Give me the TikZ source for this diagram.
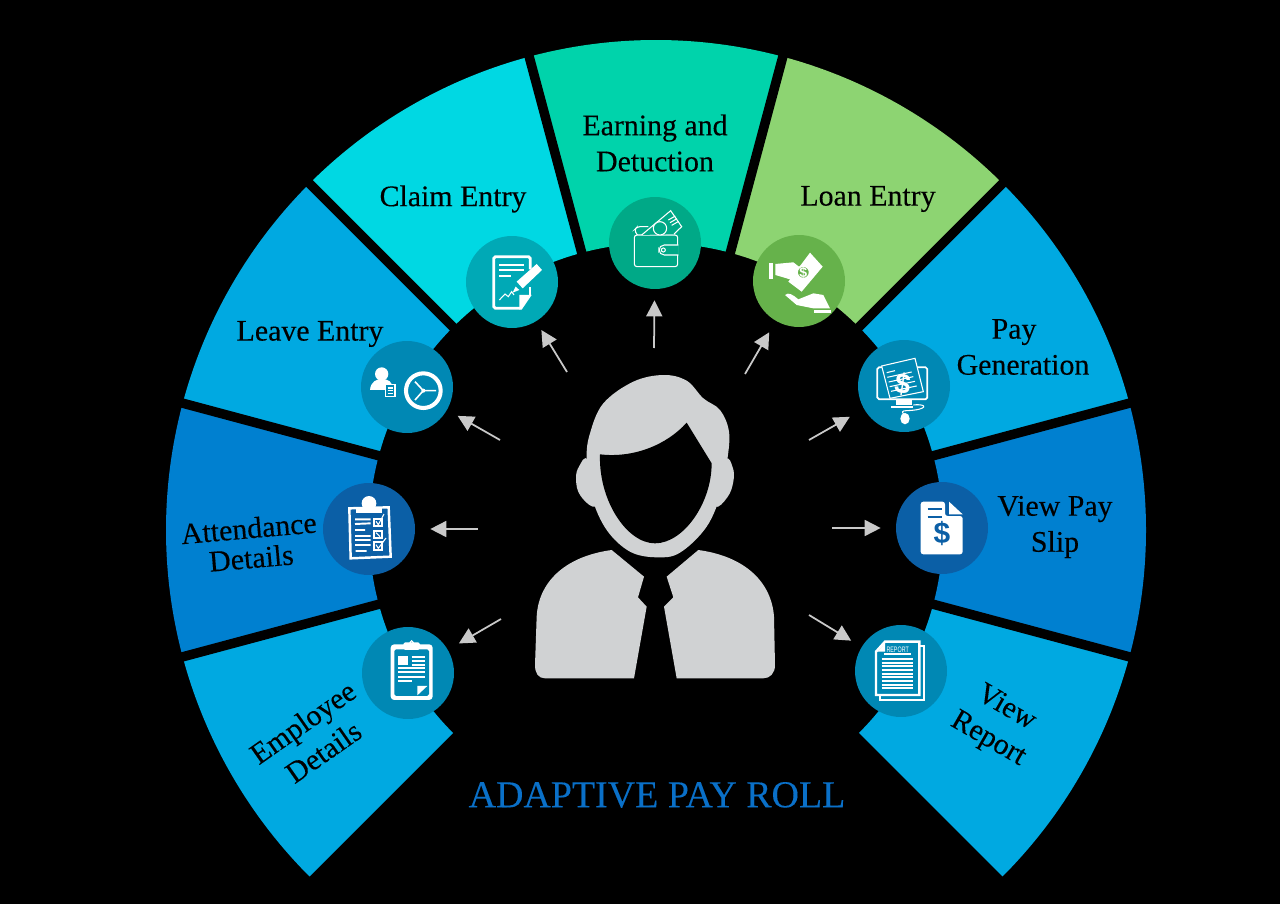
\documentclass[tikz,border=0pt]{standalone}
\usepackage{fontspec}
\setmainfont{Liberation Serif}
\setsansfont{Liberation Sans}
\newfontfamily\wedgefont[FakeBold=0.2]{Liberation Serif}
\usepackage{tikz}
\usetikzlibrary{shapes.geometric, arrows.meta}
\definecolor{wedgeteal}{HTML}{00D3AB}
\definecolor{wedgecyan}{HTML}{00D8E3}
\definecolor{wedgesky}{HTML}{00A9E1}
\definecolor{wedgeblue}{HTML}{0080D0}
\definecolor{wedgelime}{HTML}{8DD472}
\definecolor{discteal}{HTML}{00A987}
\definecolor{disccyan}{HTML}{00A9B6}
\definecolor{discsky}{HTML}{0088B4}
\definecolor{discblue}{HTML}{0B5FA6}
\definecolor{disclime}{HTML}{66B24B}
\definecolor{titleblue}{HTML}{0A70C8}
\definecolor{persongrey}{HTML}{D0D2D3}
\definecolor{arrowgrey}{HTML}{C9C9C9}
\tikzstyle{iconbox} =
[circle, minimum size = 1.84cm, inner sep = 0pt, draw=none]
\tikzstyle{itemtext} =
[align = center, inner sep = 0pt, text=black,
font = \wedgefont\fontsize{17}{20.5}\selectfont]
\tikzstyle{titletext} =
[inner sep = 0pt, text=titleblue, font = \wedgefont\fontsize{21.6}{26}\selectfont]
\tikzstyle{gapline} = [draw=black, line width = 0.19cm]
\tikzstyle{line} =
[draw=arrowgrey, line width = 0.035cm,
-{Triangle[length=0.32cm,width=0.32cm,fill=arrowgrey]}]
\tikzstyle{iconscale} = [x=0.006667cm, y=-0.006667cm]
\tikzstyle{iconline} = [draw=white, line width = 0.6pt]
\tikzstyle{iconbold} = [draw=white, line width = 1.4pt]

\begin{document}
\begin{tikzpicture}[x=0.02cm, y=0.02cm]
  \fill [black] (0,0) rectangle (1280,904);
  \coordinate (hub) at (656,374);
  %
  % wedges
  \begin{scope}[shift={(hub)}]
    \fill [wedgeteal] (75:287) arc (75:105:287) -- (105:490) arc (105:75:490) -- cycle;
    \fill [wedgecyan] (105:287) arc (105:135:287) -- (135:490) arc (135:105:490) -- cycle;
    \fill [wedgesky] (135:287) arc (135:165:287) -- (165:490) arc (165:135:490) -- cycle;
    \fill [wedgeblue] (165:287) arc (165:195:287) -- (195:490) arc (195:165:490) -- cycle;
    \fill [wedgesky] (195:287) arc (195:225:287) -- (225:490) arc (225:195:490) -- cycle;
    \fill [wedgelime] (45:287) arc (45:75:287) -- (75:490) arc (75:45:490) -- cycle;
    \fill [wedgesky] (15:287) arc (15:45:287) -- (45:490) arc (45:15:490) -- cycle;
    \fill [wedgeblue] (-15:287) arc (-15:15:287) -- (15:490) arc (15:-15:490) -- cycle;
    \fill [wedgesky] (-45:287) arc (-45:-15:287) -- (-15:490) arc (-15:-45:490) -- cycle;
    \path [gapline] (0,0) -- (105:500);
    \path [gapline] (0,0) -- (135:500);
    \path [gapline] (0,0) -- (165:500);
    \path [gapline] (0,0) -- (195:500);
    \path [gapline] (0,0) -- (75:500);
    \path [gapline] (0,0) -- (45:500);
    \path [gapline] (0,0) -- (15:500);
    \path [gapline] (0,0) -- (-15:500);
  \end{scope}
  %
  % icon discs
  \node [iconbox, fill=discteal] (iconwallet) at (655,661) {};
  \node [iconbox, fill=disccyan] (iconclaim) at (512,622) {};
  \node [iconbox, fill=discsky] (iconleave) at (407,517) {};
  \node [iconbox, fill=discblue] (iconattend) at (369,375) {};
  \node [iconbox, fill=discsky] (iconemployee) at (408,231) {};
  \node [iconbox, fill=disclime] (iconloan) at (799,623) {};
  \node [iconbox, fill=discsky] (iconpaygen) at (904,518) {};
  \node [iconbox, fill=discblue] (iconslip) at (942,376) {};
  \node [iconbox, fill=discsky] (iconreport) at (901,233) {};
  %
  % wedge texts
  \node [itemtext, above of=iconwallet, node distance=2cm] (textwallet)
   {Earning and\\ Detuction};
  \node [itemtext] (textclaim) at (453,705) {Claim Entry};
  \node [itemtext] (textleave) at (310,570) {Leave Entry};
  \node [itemtext, rotate=5] (textattend) at (250,361) {Attendance\\[-3.5pt] Details};
  \node [itemtext, rotate=35] (textemployee) at (313,167) {Employee\\ Details};
  \node [itemtext] (textloan) at (868,705) {Loan Entry};
  \node [itemtext] (textpaygen) at (1023,557)
   {Pay\hspace*{0.36cm}\\ Generation};
  \node [itemtext] (textslip) at (1055,377) {View Pay\\ Slip};
  \node [itemtext, rotate=-30] (textreport) at (997,180) {View\\ Report};
  \node [titletext, below of=hub, node distance=5.3cm, xshift=0.02cm] (title)
   {ADAPTIVE PAY ROLL};
  %
  % arrows
  \coordinate (armwallet) at (654,556);
  \coordinate (armclaim) at (567,532);
  \coordinate (armleave) at (500,464);
  \coordinate (armattend) at (478,375);
  \coordinate (armemployee) at (501,285);
  \coordinate (armloan) at (745,530);
  \coordinate (armpaygen) at (809,464);
  \coordinate (armslip) at (832,376);
  \coordinate (armreport) at (809,289);
  \path [line, shorten >=0.22cm] (armwallet) -- (iconwallet);
  \path [line, shorten >=0.2cm] (armclaim) -- (iconclaim);
  \path [line, shorten >=0.24cm] (armleave) -- (iconleave);
  \path [line, shorten >=0.3cm] (armattend) -- (iconattend);
  \path [line, shorten >=0.25cm] (armemployee) -- (iconemployee);
  \path [line, shorten >=0.26cm] (armloan) -- (iconloan);
  \path [line, shorten >=0.32cm] (armpaygen) -- (iconpaygen);
  \path [line, shorten >=0.3cm] (armslip) -- (iconslip);
  \path [line, shorten >=0.24cm] (armreport) -- (iconreport);
  %
  % person
  \begin{scope}[shift={(520,544)}, iconscale]
    \fill [persongrey] plot [smooth cycle, tension=0.7] coordinates {
      (205,298) (178,318) (168,358) (182,408) (228,440) (250,380)};
    \fill [persongrey] plot [smooth cycle, tension=0.7] coordinates {
      (615,298) (638,322) (640,365) (622,412) (585,440) (565,380)};
    \fill [persongrey] plot [smooth cycle, tension=0.6] coordinates {
      (430,45) (500,62) (550,115) (600,150) (627,215) (622,300) (605,395)
      (560,500) (480,578) (410,592) (330,575) (260,510)
      (215,410) (200,297) (210,220) (250,130) (340,65)};
    \fill [black] (240,283) .. controls (340,295) and (440,255) .. (500,188)
      -- (575,310) .. controls (575,430) and (490,550) .. (405,550)
      .. controls (320,550) and (235,420) .. (240,283) -- cycle;
    \fill [persongrey] (275,570) -- (372,650) -- (354,712) -- (380,740)
      -- (342,955) -- (75,955) .. controls (55,955) and (45,940) .. (45,915)
      -- (50,770) .. controls (55,670) and (130,590) .. (275,570) -- cycle;
    \fill [persongrey] (535,570) -- (440,650) -- (460,712) -- (432,740)
      -- (470,955) -- (730,955) .. controls (750,955) and (765,940) .. (765,915)
      -- (762,770) .. controls (755,670) and (680,590) .. (535,570) -- cycle;
  \end{scope}
  %
  % claim and leave icons
  \begin{scope}[shift={(340,724)}, iconscale]
    \draw [iconbold, rounded corners=1pt, line width=1.6pt]
      (541,385) -- (461,385) -- (461,230) -- (571,230) -- (571,268);
    \draw [iconbold, line width=1.2pt] (571,322) -- (571,345);
    \fill [white] (538,345) -- (575,345) -- (545,389) -- (538,389) -- cycle;
    \draw [iconbold, line width=1pt] (478,255) -- (552,255) (478,270) -- (552,270)
      (478,287) -- (512,287);
    \fill [white] (530,305) -- (590,252) -- (606,270) -- (548,325) -- cycle;
    \fill [white] (518,338) -- (527,320) -- (538,330) -- cycle;
    \draw [iconline] (478,360) -- (495,342) -- (505,350) -- (515,335) -- (522,345);
    \fill [white] (125,582) circle (20);
    \fill [white] (90,630) .. controls (92,605) and (110,597) .. (125,597)
      .. controls (145,597) and (158,605) .. (160,630) -- cycle;
    \filldraw [fill=discsky, iconline] (137,614) rectangle (165,650);
    \draw [iconline] (143,624) -- (159,624) (143,632) -- (159,632) (143,640) -- (159,640);
    \draw [draw=white, line width=2.3pt] (250,632) circle (52);
    \draw [iconline, line width=0.9pt] (250,632) -- (225,605) (250,632) -- (288,632)
      (250,632) -- (225,660);
    \fill [white] (250,632) circle (6);
  \end{scope}
  %
  % wallet, loan and pay generation icons
  \begin{scope}[shift={(600,724)}, iconscale]
    \draw [iconline, rounded corners=1.5pt] (233,165) -- (103,165) -- (103,260)
      -- (233,260) -- cycle;
    \draw [iconline, rounded corners=1.5pt] (112,165) -- (103,150) -- (112,140) -- (145,140);
    \filldraw [fill=discteal, iconline, rounded corners=3pt] (235,195) -- (177,195)
      -- (177,225) -- (235,225);
    \draw [iconline] (190,210) circle (6);
    \filldraw [fill=discteal, iconline] (125,165) -- (212,92) -- (245,140) -- (222,162);
    \filldraw [fill=discteal, iconline] (180,145) circle (20);
    \draw [iconline] (205,120) -- (226,108) (210,128) -- (231,116) (215,136) -- (236,124);
    %
    \fill [white] (508,250) rectangle (520,298);
    \fill [white] (526,252) -- (580,247) -- (610,270) -- (590,305) -- (560,295)
      -- (526,285) -- cycle;
    \fill [white] (630,218) -- (668,260) -- (605,335) -- (565,305) -- cycle;
    \filldraw [fill=disclime, iconline, line width=1pt] (610,277) circle (19);
    \node [inner sep=0pt, text=white, font=\sffamily\bfseries\fontsize{8}{8}\selectfont]
      (dollarloan) at (610,277) {\$};
    \fill [white] (555,345) .. controls (565,335) and (580,345) .. (595,358)
      -- (640,340) -- (670,345) -- (690,385) -- (640,385) -- (590,375) -- cycle;
    \fill [white] (642,391) rectangle (692,399);
    %
    \draw [iconbold, line width=1pt, rounded corners=1pt] (832,658) -- (832,562) -- (982,562)
      -- (982,658) -- cycle;
    \filldraw [fill=discsky, iconline] (845,558) -- (945,535) -- (970,635) -- (870,655) -- cycle;
    \draw [iconline] (860,578) -- (885,572) (862,592) -- (935,576) (866,606) -- (940,590)
      (869,620) -- (945,604) (873,634) -- (950,618);
    \node [inner sep=0pt, text=white, font=\sffamily\bfseries\fontsize{16}{16}\selectfont,
      rotate=-8] (dollarpaygen) at (908,612) {\$};
    \fill [white] (888,660) rectangle (935,675);
    \fill [white] (873,677) rectangle (940,683);
    \draw [iconline] (940,675) .. controls (985,670) and (985,690) .. (920,692)
      .. controls (905,692) and (905,697) .. (912,703);
    \fill [white] (915,716) ellipse (14 and 17);
  \end{scope}
  %
  % attendance and employee icons
  \begin{scope}[shift={(300,444)}, iconscale]
    \draw [iconbold] (148,145) -- (266,142) -- (272,290) -- (152,295) -- cycle;
    \fill [white] (207,130) circle (22);
    \fill [white] (167,140) rectangle (247,160);
    \draw [iconline, line width=1.1pt] (165,178) -- (212,178) (165,192) -- (212,190)
      (165,210) -- (195,210) (165,228) -- (212,228) (165,240) -- (212,240)
      (165,255) -- (212,255) (167,273) -- (200,273);
    \draw [iconline, line width=1.2pt] (222,176) rectangle (246,198) (222,212) rectangle (246,234)
      (222,247) rectangle (246,269);
    \draw [iconline] (228,184) -- (235,194) -- (252,162) (228,218) -- (240,230)
      (228,254) -- (235,265) -- (258,234);
    %
    \fill [white, rounded corners=2pt] (272,553) rectangle (398,720);
    \fill [discsky, rounded corners=1pt] (283,568) rectangle (387,708);
    \fill [white, rounded corners=1pt] (310,547) rectangle (360,570);
    \draw [iconline] (335,547) circle (5);
    \fill [white] (295,587) rectangle (323,615);
    \draw [iconline, line width=1.1pt] (335,590) -- (375,590) (335,602) -- (375,602)
      (335,614) -- (375,614) (295,625) -- (375,625) (295,637) -- (375,637)
      (295,650) -- (375,650) (295,662) -- (335,662);
    \fill [white] (352,678) -- (382,678) -- (352,706) -- cycle;
  \end{scope}
  %
  % pay slip and report icons
  \begin{scope}[shift={(790,444)}, iconscale]
    \fill [white, rounded corners=1.5pt] (392,125) -- (465,125) -- (465,168) -- (518,168)
      -- (518,283) -- (392,283) -- cycle;
    \fill [white] (477,125) -- (518,163) -- (477,163) -- cycle;
    \draw [draw=discblue, line width=1.2pt] (413,148) -- (455,148) (413,170) -- (455,170);
    \node [inner sep=0pt, text=discblue, font=\sffamily\bfseries\fontsize{17}{17}\selectfont]
      (dollarslip) at (456,220) {\$};
    %
    \draw [iconbold, line width=1.1pt] (388,558) -- (403,558) -- (403,720) -- (270,720) -- (270,705);
    \draw [iconbold, line width=1.4pt] (258,575) -- (285,545) -- (388,545) -- (388,705)
      -- (258,705) -- cycle;
    \fill [white] (262,575) -- (285,575) -- (285,550) -- cycle;
    \node [inner sep=0pt, text=white, xscale=0.68, font=\sffamily\fontsize{4.5}{5}\selectfont]
      (reportword) at (323,569) {REPORT};
    \draw [iconline] (283,582) -- (362,582);
    \draw [iconline, line width=1pt] (275,597) -- (370,597) (275,608) -- (370,608) (275,619) -- (370,619)
      (275,630) -- (370,630) (275,641) -- (370,641) (275,652) -- (370,652)
      (275,663) -- (370,663) (275,674) -- (370,674) (275,685) -- (370,685);
  \end{scope}
\end{tikzpicture}
\end{document}
